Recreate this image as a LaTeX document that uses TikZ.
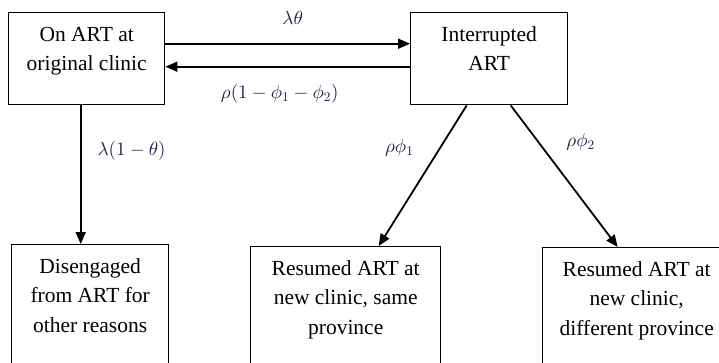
\documentclass[tikz,border=0pt]{standalone}
\usepackage{fontspec}
\setmainfont{Liberation Serif}
\usetikzlibrary{arrows.meta}
\DeclareFontShape{OML}{cmm}{m}{it}{<->cmmi10}{}
\DeclareFontShape{OT1}{cmr}{m}{n}{<->cmr10}{}
\DeclareFontShape{OMS}{cmsy}{m}{n}{<->cmsy10}{}
\definecolor{mathink}{RGB}{25,35,70}
\newcommand\bxtext[3]{\parbox[c][#2][t]{#1}{\centering\rule{0pt}{28.5pt}#3}}
\tikzset{
  stbox/.style={draw=black, line width=1.4pt, inner sep=0pt, anchor=north west,
    font=\fontsize{21.5}{29.5}\selectfont},
  flow/.style={line width=1.8pt, -{Triangle[length=12pt,width=10pt]}},
  rate/.style={inner sep=0pt, text=mathink, font=\fontsize{19}{22}\selectfont}
}
\begin{document}
\begin{tikzpicture}[x=1pt,y=-1pt]
\useasboundingbox (0,0) rectangle (719,362);
\clip (0,0) rectangle (719,362);
\node[stbox] (b1) at (8,12) {\bxtext{156pt}{92pt}{On ART at\\original clinic}};
\node[stbox] (b2) at (410,12) {\bxtext{157pt}{92pt}{Interrupted\\ART}};
\node[stbox] (b3) at (11,244) {\bxtext{157pt}{130pt}{Disengaged\\from ART for\\other reasons}};
\node[stbox] (b4) at (250,246) {\bxtext{190pt}{130pt}{Resumed ART at\\new clinic, same\\province}};
\node[stbox] (b5) at (542,247) {\bxtext{188pt}{130pt}{Resumed ART at\\new clinic,\\different province}};
\draw[flow] ([yshift=15pt]b1.east) -- ([yshift=15pt]b2.west)
  node[rate, midway, anchor=south, yshift=18pt, xshift=5pt] (l1) {$\lambda\theta$};
\draw[flow] ([yshift=-8pt]b2.west) -- ([yshift=-8pt]b1.east)
  node[rate, midway, anchor=north, yshift=-17pt, xshift=-8pt] (l2) {$\rho(1-\phi_1-\phi_2)$};
\draw[flow] ([xshift=-6pt]b1.south) -- ([xshift=-6pt]b1.south |- b3.north)
  node[rate, pos=0.33, anchor=west, xshift=16pt] (l3) {$\lambda(1-\theta)$};
\draw[flow] ([xshift=-22.5pt]b2.south) -- ([xshift=33pt]b4.north)
  node[rate, pos=0.3, anchor=east, xshift=-26pt] (l4) {$\rho\phi_1$};
\draw[flow] ([xshift=21.5pt]b2.south) -- ([xshift=-19pt]b5.north)
  node[rate, pos=0.26, anchor=west, xshift=27pt] (l5) {$\rho\phi_2$};
\end{tikzpicture}
\end{document}
